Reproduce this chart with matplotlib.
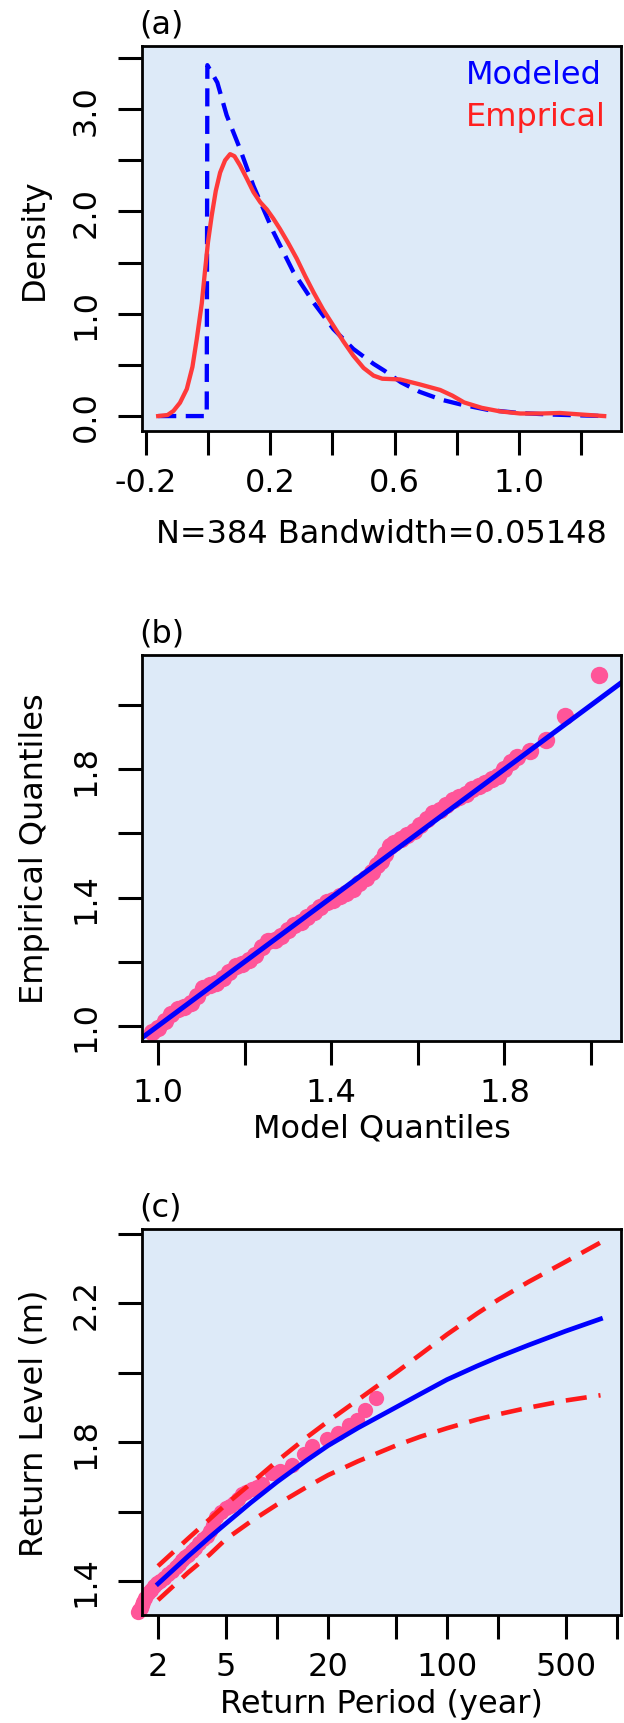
import numpy as np
import matplotlib
matplotlib.use("Agg")
import matplotlib.pyplot as plt

plt.rcParams['font.family'] = ['DejaVu Sans']

# (a) density of the exceedances: fitted model vs kernel estimate
dens_model_x = [-0.16, -0.004, -0.002, 0.03, 0.06, 0.103, 0.146, 0.21, 0.274, 0.339, 0.403,
                0.467, 0.532, 0.566, 0.62, 0.68, 0.75, 0.81, 0.9, 1.0, 1.1, 1.273]
dens_model_y = [0.0, 0.0, 3.43, 3.26, 2.94, 2.61, 2.25, 1.80, 1.41, 1.11, 0.85,
                0.656, 0.51, 0.445, 0.33, 0.237, 0.16, 0.115, 0.06, 0.03, 0.015, 0.0]
dens_emp_x = [-0.16, -0.13, -0.111, -0.09, -0.068, -0.05, -0.036, -0.02, -0.01, 0.0, 0.012,
              0.025, 0.039, 0.055, 0.071, 0.085, 0.103, 0.125, 0.146, 0.168, 0.189, 0.21,
              0.231, 0.258, 0.285, 0.312, 0.339, 0.37, 0.403, 0.435, 0.467, 0.5, 0.532,
              0.56, 0.585, 0.617, 0.68, 0.746, 0.785, 0.823, 0.88, 0.938, 1.003, 1.07,
              1.131, 1.2, 1.273]
dens_emp_y = [0.0, 0.01, 0.05, 0.13, 0.265, 0.48, 0.753, 1.1, 1.405, 1.7, 1.96,
              2.2, 2.38, 2.5, 2.56, 2.54, 2.45, 2.32, 2.19, 2.09, 2.02, 1.93,
              1.83, 1.69, 1.54, 1.37, 1.21, 1.04, 0.883, 0.73, 0.59, 0.47, 0.395,
              0.365, 0.362, 0.358, 0.31, 0.255, 0.2, 0.133, 0.08, 0.046, 0.025, 0.025,
              0.03, 0.015, 0.0]
n_obs = 384
bandwidth = 0.05148

# (b) quantile-quantile
qq_model = [0.985, 1.0, 1.015, 1.03, 1.045, 1.06, 1.075, 1.09, 1.105, 1.12, 1.135, 1.15,
            1.165, 1.18, 1.195, 1.21, 1.225, 1.24, 1.255, 1.27, 1.285, 1.30, 1.315, 1.33,
            1.345, 1.36, 1.375, 1.39, 1.405, 1.42, 1.435, 1.45, 1.465, 1.48, 1.495, 1.505,
            1.515, 1.525, 1.535, 1.545, 1.56, 1.575, 1.59, 1.605, 1.62, 1.635, 1.65, 1.665,
            1.68, 1.695, 1.71, 1.725, 1.74, 1.755, 1.77, 1.785, 1.80, 1.815, 1.83, 1.86,
            1.895, 1.94, 2.018]
qq_emp = [0.98, 0.995, 1.015, 1.036, 1.052, 1.058, 1.07, 1.094, 1.118, 1.128, 1.135, 1.148,
          1.168, 1.186, 1.192, 1.205, 1.222, 1.246, 1.264, 1.268, 1.28, 1.30, 1.313, 1.325,
          1.34, 1.356, 1.37, 1.385, 1.392, 1.405, 1.414, 1.426, 1.444, 1.462, 1.48, 1.50,
          1.515, 1.535, 1.56, 1.57, 1.582, 1.594, 1.608, 1.626, 1.646, 1.664, 1.672, 1.69,
          1.705, 1.714, 1.722, 1.738, 1.748, 1.758, 1.77, 1.78, 1.80, 1.822, 1.838, 1.857,
          1.892, 1.966, 2.095]
qq_intercept, qq_slope = 0.0, 1.0

# (c) return levels with confidence bounds
rp_years = [2, 3, 4, 5, 7, 10, 15, 20, 30, 50, 70, 100, 150, 200, 300, 500, 800]
rl_fit = [1.392, 1.471, 1.525, 1.565, 1.625, 1.685, 1.748, 1.79, 1.841, 1.90, 1.939, 1.98,
          2.019, 2.045, 2.079, 2.12, 2.155]
rl_upper = [1.443, 1.522, 1.577, 1.62, 1.68, 1.745, 1.814, 1.86, 1.922, 2.0, 2.053, 2.11,
            2.17, 2.21, 2.261, 2.32, 2.375]
rl_lower = [1.345, 1.424, 1.475, 1.52, 1.571, 1.62, 1.671, 1.705, 1.745, 1.79, 1.816, 1.84,
            1.865, 1.88, 1.899, 1.92, 1.935]
obs_period = [1.52, 1.55, 1.58, 1.61, 1.64, 1.68, 1.75, 1.82, 1.9, 1.98, 2.06, 2.17, 2.29,
              2.42, 2.55, 2.66, 2.77, 2.9, 3.0, 3.15, 3.3, 3.5, 3.7, 3.9, 4.05, 4.2, 4.4,
              4.7, 5.0, 5.3, 5.6, 5.9, 6.2, 6.6, 7.1, 7.6, 8.2, 9.4, 10.4, 12.3, 14.4,
              16.1, 19.7, 22.9, 26.6, 29.6, 33, 38.3]
obs_level = [1.31, 1.315, 1.322, 1.33, 1.34, 1.35, 1.365, 1.375, 1.385, 1.395, 1.40, 1.41,
             1.42, 1.43, 1.44, 1.45, 1.46, 1.468, 1.475, 1.485, 1.495, 1.51, 1.52, 1.53,
             1.545, 1.56, 1.585, 1.598, 1.61, 1.617, 1.625, 1.637, 1.65, 1.657, 1.665,
             1.672, 1.68, 1.712, 1.718, 1.735, 1.765, 1.79, 1.808, 1.827, 1.848, 1.863,
             1.892, 1.928]

BG = '#DDEAF8'
PINK = '#FF5599'
FS = 23

W, H = 624, 1724
fig = plt.figure(figsize=(W / 100, H / 100), dpi=100)


def panel(top, bottom):
    ax = fig.add_axes([142 / W, 1 - bottom / H, 479 / W, (bottom - top) / H])
    ax.set_facecolor(BG)
    for s in ax.spines.values():
        s.set_linewidth(2.0)
    ax.tick_params(direction='out', length=17, width=2.2, labelsize=FS,
                   top=False, right=False)
    ax.tick_params(axis='y', pad=12)
    ax.tick_params(axis='x', pad=9)
    return ax


def set_ticks(ax, xt, xl, yt, yl):
    ax.set_xticks(xt)
    ax.set_xticklabels(xl)
    ax.set_yticks(yt)
    ax.set_yticklabels(yl, rotation=90, va='center')


def tag(ax, s):
    ax.annotate(s, xy=(0, 1), xycoords='axes fraction', xytext=(-2, 5),
                textcoords='offset points', ha='left', va='bottom', fontsize=FS)


# ---- (a)
ax = panel(47, 432)
ax.plot(dens_model_x, dens_model_y, color='#0000FF', lw=3.1, ls=(0, (4.2, 2.2)))
ax.plot(dens_emp_x, dens_emp_y, color='#FF3A3A', lw=3.1)
ax.set_xlim(-0.212, 1.327)
ax.set_ylim(-0.146, 3.617)
xt = np.round(np.arange(-0.2, 1.21, 0.2), 1)
yt = np.round(np.arange(0, 3.51, 0.5), 1)
set_ticks(ax, xt, ['%.1f' % v if i % 2 == 0 else '' for i, v in enumerate(xt)],
          yt, ['%.1f' % v if i % 2 == 0 else '' for i, v in enumerate(yt)])
ax.set_ylabel('Density', fontsize=FS, labelpad=15)
ax.set_xlabel('N=%d Bandwidth=%.5f' % (n_obs, bandwidth), fontsize=FS, labelpad=14)
ax.text(0.676, 0.925, 'Modeled', color='#0000FF', fontsize=FS, transform=ax.transAxes,
        ha='left', va='center')
ax.text(0.676, 0.818, 'Emprical', color='#FF2020', fontsize=FS, transform=ax.transAxes,
        ha='left', va='center')
tag(ax, '(a)')

# ---- (b)
ax = panel(656, 1042)
ax.plot(qq_model, qq_emp, 'o', color=PINK, ms=12.5, mec='none')
ax.axline((0, qq_intercept), slope=qq_slope, color='#0000FF', lw=3.6)
ax.set_xlim(0.963, 2.069)
ax.set_ylim(0.953, 2.156)
t = np.round(np.arange(1.0, 2.01, 0.2), 1)
lab = ['%.1f' % v if i % 2 == 0 else '' for i, v in enumerate(t)]
set_ticks(ax, t, lab, t, lab)
ax.set_xlabel('Model Quantiles', fontsize=FS, labelpad=3)
ax.set_ylabel('Empirical Quantiles', fontsize=FS, labelpad=15)
tag(ax, '(b)')

# ---- (c)
ax = panel(1230, 1616)
ax.set_xscale('log')
ax.plot(obs_period, obs_level, 'o', color=PINK, ms=11, mec='none', clip_on=False)
ax.plot(rp_years, rl_fit, color='#0000FF', lw=3.4)
ax.plot(rp_years, rl_upper, color='#FF1A1A', lw=3.3, ls=(0, (4.6, 2.6)))
ax.plot(rp_years, rl_lower, color='#FF1A1A', lw=3.3, ls=(0, (4.6, 2.6)))
ax.set_xlim(1.61, 1056)
ax.set_ylim(1.302, 2.414)
xt = [2, 5, 10, 20, 50, 100, 200, 500, 1000]
xl = ['2', '5', '', '20', '', '100', '', '500', '']
yt = np.round(np.arange(1.4, 2.41, 0.2), 1)
set_ticks(ax, xt, xl, yt, ['%.1f' % v if i % 2 == 0 else '' for i, v in enumerate(yt)])
ax.minorticks_off()
ax.set_xlabel('Return Period (year)', fontsize=FS, labelpad=4)
ax.set_ylabel('Return Level (m)', fontsize=FS, labelpad=15)
tag(ax, '(c)')

fig.savefig('out.png', dpi=100, facecolor='white')
